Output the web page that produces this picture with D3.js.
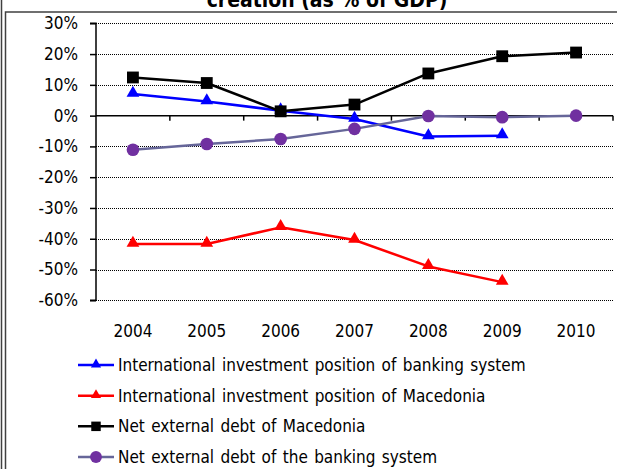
<!DOCTYPE html>
<html>
<head>
<meta charset="utf-8">
<script src="https://cdn.jsdelivr.net/npm/d3@7"></script>
<style>
  html, body { margin: 0; padding: 0; background: #fff; }
  svg { display: block; }
  text { font-family: "DejaVu Sans Condensed", "DejaVu Sans", sans-serif; font-stretch: condensed; fill: #000; }
</style>
</head>
<body>
<svg id="chart" width="617" height="469"></svg>
<script>
const years = ["2004", "2005", "2006", "2007", "2008", "2009", "2010"];
const iipBanking   = [7.0, 4.6, 1.6, -1.1, -6.8, -6.5, null];
const iipMacedonia = [-41.7, -41.7, -36.3, -40.4, -49.0, -54.1, null];
const nedMacedonia = [12.4, 10.6, 1.4, 3.6, 13.7, 19.3, 20.5];
const nedBanking   = [-11.1, -9.2, -7.6, -4.3, -0.1, -0.5, 0.0];
const yTicks = [30, 20, 10, 0, -10, -20, -30, -40, -50, -60];
const seriesNames = [
  "International investment position of banking system",
  "International investment position of Macedonia",
  "Net external debt of Macedonia",
  "Net external debt of the banking system"
];
const titleText = "creation (as % of GDP)";

const series = [
  { name: seriesNames[0], values: iipBanking,   line: "#0000FF", fill: "#0000FF", marker: "triangle" },
  { name: seriesNames[1], values: iipMacedonia, line: "#FF0000", fill: "#FF0000", marker: "triangle" },
  { name: seriesNames[2], values: nedMacedonia, line: "#000000", fill: "#000000", marker: "square" },
  { name: seriesNames[3], values: nedBanking,   line: "#666699", fill: "#7030A0", marker: "circle" }
];

const svg = d3.select("#chart");
const pLeft = 96, pRight = 613, pTop = 23.3, pBottom = 300.3;

const x = d3.scaleBand().domain(years).range([pLeft, pRight]);
const y = d3.scaleLinear().domain([-60, 30]).range([pBottom, pTop]);

// frame
svg.append("line").attr("x1", 1.5).attr("x2", 1.5).attr("y1", 0).attr("y2", 469)
  .attr("stroke", "#404040").attr("stroke-width", 1.5);
svg.append("path").attr("d", `M5.5,469 V12 H617`)
  .attr("fill", "none").attr("stroke", "#404040").attr("stroke-width", 1.5);

// title (partially cut off, as in the reference)
svg.append("text").attr("x", 327).attr("y", 7)
  .attr("text-anchor", "middle").attr("font-weight", "bold").attr("font-size", 21)
  .text(titleText);

// gridlines
svg.append("g").selectAll("line").data(yTicks.filter(d => d !== 0)).join("line")
  .attr("x1", pLeft).attr("x2", pRight)
  .attr("y1", d => Math.round(y(d)) + 0.5).attr("y2", d => Math.round(y(d)) + 0.5)
  .attr("stroke", "#000").attr("stroke-width", 1).attr("stroke-dasharray", "1,1");

// y axis
const yAxis = d3.axisLeft(y).tickValues(yTicks).tickFormat(d => d + "%").tickSize(6).tickPadding(12);
const gy = svg.append("g").attr("transform", `translate(${pLeft},0)`).call(yAxis);
gy.select(".domain").attr("stroke", "#000").attr("stroke-width", 1.5).attr("d", `M-6,${y(30)}H0V${y(-60)}H-6`);
gy.selectAll(".tick line").attr("stroke", "#000").attr("stroke-width", 1.5);
gy.selectAll(".tick text").attr("font-size", 17).attr("font-family", null).attr("fill", "#000");

// x axis at zero
const xEdge = d3.scaleLinear().domain([0, years.length]).range([pLeft, pRight]);
const gx = svg.append("g").attr("transform", `translate(0,${y(0)})`);
gx.append("line").attr("x1", pLeft).attr("x2", pRight).attr("stroke", "#000").attr("stroke-width", 1.5);
gx.selectAll("line.tk").data(d3.range(1, years.length + 1)).join("line").attr("class", "tk")
  .attr("x1", d => xEdge(d)).attr("x2", d => xEdge(d)).attr("y1", 0).attr("y2", 5)
  .attr("stroke", "#000").attr("stroke-width", 1.5);

// x labels at bottom
svg.append("g").selectAll("text").data(years).join("text")
  .attr("x", d => x(d) + x.bandwidth() / 2).attr("y", 337)
  .attr("text-anchor", "middle").attr("font-size", 17).text(d => d);

// markers
const tri = d3.symbol().type(d3.symbolTriangle).size(70);
const sq = d3.symbol().type(d3.symbolSquare).size(140);
const circ = d3.symbol().type(d3.symbolCircle).size(125);
function markerPath(m) { return m === "triangle" ? tri() : m === "square" ? sq() : circ(); }

const line = d3.line().defined(d => d.v !== null)
  .x(d => x(d.year) + x.bandwidth() / 2).y(d => y(d.v));

series.forEach(s => {
  const data = years.map((yr, i) => ({ year: yr, v: s.values[i] }));
  const g = svg.append("g");
  g.append("path").datum(data).attr("d", line)
    .attr("fill", "none").attr("stroke", s.line).attr("stroke-width", 2.5).attr("stroke-linejoin", "round");
  g.selectAll("path.mk").data(data.filter(d => d.v !== null)).join("path").attr("class", "mk")
    .attr("d", markerPath(s.marker))
    .attr("transform", d => `translate(${x(d.year) + x.bandwidth() / 2},${y(d.v) + (s.marker === "triangle" ? -1 : 0)})`)
    .attr("fill", s.fill);
});

// legend
const legY = d3.scalePoint().domain(seriesNames).range([365, 457]);
const lg = svg.append("g");
series.forEach(s => {
  const yy = legY(s.name);
  lg.append("line").attr("x1", 78).attr("x2", 114).attr("y1", yy).attr("y2", yy)
    .attr("stroke", s.line).attr("stroke-width", 2.5);
  lg.append("path").attr("d", s.marker === "triangle" ? d3.symbol().type(d3.symbolTriangle).size(45)()
        : s.marker === "square" ? d3.symbol().type(d3.symbolSquare).size(90)() : d3.symbol().type(d3.symbolCircle).size(110)())
    .attr("transform", `translate(96,${yy + (s.marker === "triangle" ? -0.5 : 0)})`).attr("fill", s.fill);
  lg.append("text").attr("x", 118).attr("y", yy + 6).attr("font-size", 17).attr("word-spacing", 1.5).text(s.name);
});
</script>
</body>
</html>
